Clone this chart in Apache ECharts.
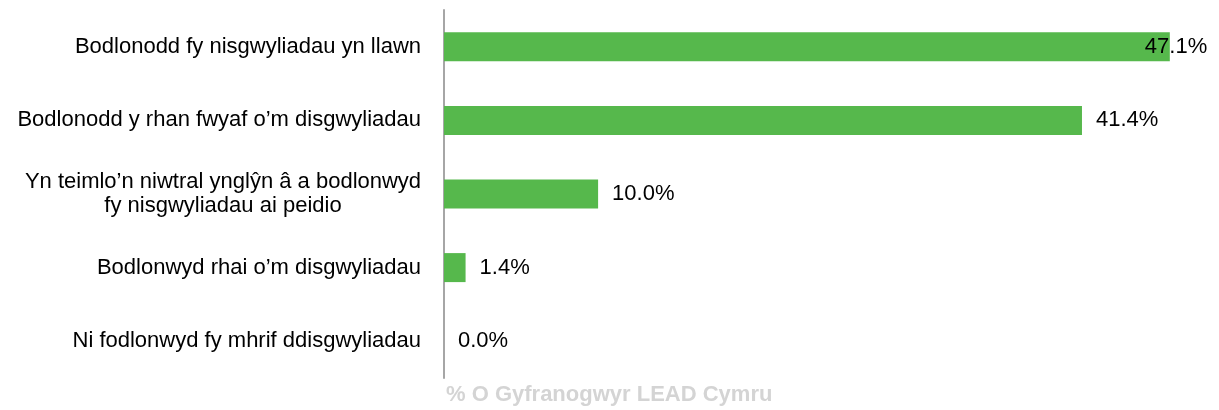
<!DOCTYPE html>
<html>
<head>
<meta charset="utf-8">
<script src="https://cdn.jsdelivr.net/npm/echarts@6/dist/echarts.min.js"></script>
<style>
  html, body { margin: 0; padding: 0; background: #fff; }
  #chart { width: 1219px; height: 410px; }
</style>
</head>
<body>
<div id="chart"></div>
<script>
const categories = [
    'Bodlonodd fy nisgwyliadau yn llawn',
    'Bodlonodd y rhan fwyaf o’m disgwyliadau',
    'Yn teimlo’n niwtral ynglŷn â a bodlonwyd\nfy nisgwyliadau ai peidio',
    'Bodlonwyd rhai o’m disgwyliadau',
    'Ni fodlonwyd fy mhrif ddisgwyliadau'
]
const values = [47.1, 41.4, 10.0, 1.4, 0.0]
const axisTitle = '% O Gyfranogwyr LEAD Cymru'

let chart = echarts.init(document.getElementById('chart'))

// wrapped label: lines centred on each other, block still ends at the axis
let yData = categories.map(c => c.indexOf('\n') < 0 ? c : {
    value: c,
    textStyle: { align: 'center', padding: [0, 396, 0, 0] }
})

let seriesData = values.map((v, i) => {
    let item = { value: v }
    // Excel pulled the top label back over the bar end so it fits
    if (i === 0) item.label = { offset: [-39, 0] }
    return item
})

chart.setOption({
    backgroundColor: '#fff',
    textStyle: { fontFamily: 'Liberation Sans, Arial, sans-serif' },
    animation: false,
    title: {
        text: axisTitle,
        left: 441,
        top: 379,
        textStyle: {
            fontSize: 22,
            fontWeight: 'bold',
            color: '#D4D4D4',
            fontFamily: 'Liberation Sans, Arial, sans-serif'
        }
    },
    grid: {
        left: 444,
        right: 4.5,
        top: 10,
        bottom: 32,
        containLabel: false
    },
    xAxis: {
        type: 'value',
        min: 0,
        max: 50,
        show: false
    },
    yAxis: {
        type: 'category',
        inverse: true,
        data: yData,
        axisLine: { show: true, lineStyle: { color: '#A6A6A6', width: 2 } },
        axisTick: { show: false },
        axisLabel: {
            margin: 23,
            fontSize: 22,
            color: '#000',
            lineHeight: 24,
            align: 'right'
        }
    },
    series: [
        {
            type: 'bar',
            data: seriesData,
            barWidth: 29,
            itemStyle: { color: '#56B84C' },
            label: {
                show: true,
                position: 'right',
                distance: 14,
                fontSize: 22,
                color: '#000',
                formatter: p => p.value.toFixed(1) + '%'
            }
        }
    ]
})
</script>
</body>
</html>
